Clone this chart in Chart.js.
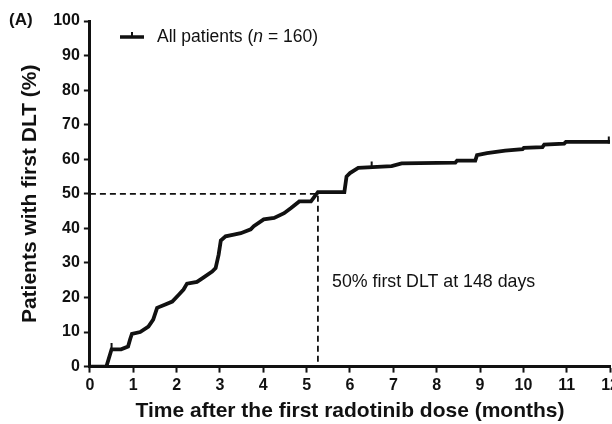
<!DOCTYPE html>
<html>
<head>
<meta charset="utf-8">
<script src="https://cdn.jsdelivr.net/npm/chart.js@4"></script>
<style>
  html, body { margin: 0; padding: 0; background: #fff; overflow: hidden; }
  #wrap { width: 622px; height: 424px; }
</style>
</head>
<body>
<div id="wrap"><canvas id="km-chart"></canvas></div>
<script>
// Time (months) and cumulative % of patients with first DLT
const months = [0, 0.38, 0.5, 0.72, 0.88, 0.93, 0.97, 1.16, 1.35, 1.46, 1.55, 1.74, 1.9, 2.05, 2.16,
  2.24, 2.47, 2.6, 2.82, 2.9, 2.97, 3.02, 3.13, 3.32, 3.48, 3.71, 3.78, 4.01, 4.25, 4.48, 4.64,
  4.83, 5.1, 5.22, 5.26, 5.87, 5.92, 6.0, 6.19, 6.96, 7.19, 8.43, 8.47, 8.89, 8.93, 9.16, 9.58,
  9.98, 10.01, 10.44, 10.48, 10.94, 10.98, 11.95, 12.0];
const pctDLT = [0, 0, 5, 5, 5.8, 8, 9.5, 10, 11.6, 13.6, 17, 18, 18.8, 20.8, 22.3,
  24, 24.5, 25.6, 27.5, 28.5, 32.4, 36.5, 37.7, 38.2, 38.6, 39.7, 40.6, 42.6, 43, 44.4, 45.9,
  47.8, 47.8, 49.8, 50.5, 50.5, 55, 56, 57.5, 58, 58.8, 59, 59.6, 59.6, 61.2, 61.8, 62.5,
  62.9, 63.3, 63.5, 64.2, 64.5, 65, 65, 65];

// censored marks
const censorMonths = [0.5, 6.5, 11.97];
const censorPct = [5.8, 58.3, 65.6];

// median reference (148 days)
const medianMonth = 5.26;
const medianPct = 50;

const xTicks = [0, 1, 2, 3, 4, 5, 6, 7, 8, 9, 10, 11, 12];
const yTicks = [0, 10, 20, 30, 40, 50, 60, 70, 80, 90, 100];

const FONT = "'Liberation Sans', Arial, sans-serif";

const extras = {
  id: 'extras',
  afterDraw(chart) {
    const c = chart.ctx;
    c.save();
    c.fillStyle = '#111';
    c.textBaseline = 'middle';
    c.font = 'bold 17px ' + FONT;
    c.textAlign = 'left';
    c.fillText('(A)', 9, 20);

    // legend
    c.strokeStyle = '#111';
    c.lineWidth = 3.5;
    c.beginPath();
    c.moveTo(120, 37); c.lineTo(144, 37);
    c.stroke();
    c.lineWidth = 2;
    c.beginPath();
    c.moveTo(132, 37); c.lineTo(132, 32);
    c.stroke();
    let x = 157;
    const parts = [['All patients (', '17.5px '], ['n', 'italic 17.5px '], [' = 160)', '17.5px ']];
    parts.forEach(p => {
      c.font = p[1] + FONT;
      c.fillText(p[0], x, 37);
      x += c.measureText(p[0]).width;
    });

    // annotation
    c.font = '17.8px ' + FONT;
    c.fillText('50% first DLT at 148 days', 332, 282);
    c.restore();
  }
};

const ticksFrom = arr => axis => { axis.ticks = arr.map(v => ({ value: v })); };

new Chart(document.getElementById('km-chart'), {
  type: 'line',
  data: {
    datasets: [{
      data: months.map((m, i) => ({ x: m, y: pctDLT[i] })),
      borderColor: '#111',
      borderWidth: 3.8,
      pointRadius: 0,
      tension: 0,
      order: 1
    }, {
      data: censorMonths.map((m, i) => ({ x: m, y: censorPct[i] })),
      showLine: false,
      pointStyle: 'line',
      rotation: 90,
      pointRadius: 3.5,
      borderColor: '#111',
      borderWidth: 2,
      order: 0
    }, {
      data: [{ x: 0, y: medianPct }, { x: medianMonth, y: medianPct }, { x: medianMonth, y: 0 }],
      borderColor: '#111',
      borderWidth: 1.8,
      borderDash: [6, 4],
      pointRadius: 0,
      tension: 0,
      order: 2
    }]
  },
  options: {
    responsive: true,
    maintainAspectRatio: false,
    animation: false,
    plugins: {
      legend: { display: false },
      tooltip: { enabled: false }
    },
    layout: {
      padding: { left: 18, top: 21, right: 0, bottom: 0 }
    },
    scales: {
      x: {
        type: 'linear',
        min: 0, max: 12,
        afterBuildTicks: ticksFrom(xTicks),
        grid: { drawOnChartArea: false, tickLength: 6, tickWidth: 2, tickColor: '#111' },
        border: { color: '#111', width: 3 },
        ticks: { color: '#111', padding: 3, maxRotation: 0, font: { family: FONT, size: 16, weight: 'bold' } },
        title: {
          display: true,
          text: 'Time after the first radotinib dose (months)',
          color: '#111',
          padding: { top: 1, bottom: 0 },
          font: { family: FONT, size: 21, weight: 'bold' }
        }
      },
      y: {
        min: 0, max: 100,
        afterBuildTicks: ticksFrom(yTicks),
        grid: { drawOnChartArea: false, tickLength: 6, tickWidth: 2, tickColor: '#111' },
        border: { color: '#111', width: 3 },
        ticks: { color: '#111', padding: 4, font: { family: FONT, size: 16, weight: 'bold' } },
        title: {
          display: true,
          text: 'Patients with first DLT (%)',
          color: '#111',
          padding: { top: 0, bottom: 6 },
          font: { family: FONT, size: 21, weight: 'bold' }
        }
      }
    }
  },
  plugins: [extras]
});
</script>
</body>
</html>
